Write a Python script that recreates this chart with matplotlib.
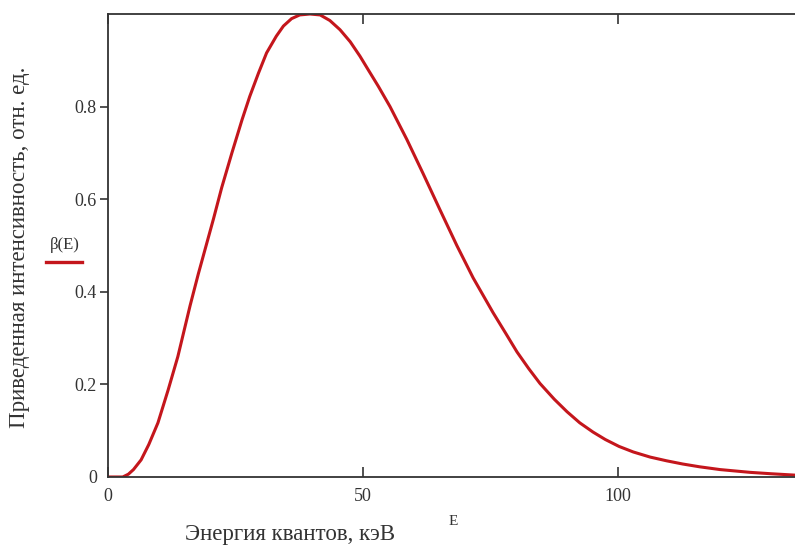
import matplotlib
matplotlib.use("Agg")
import matplotlib.pyplot as plt
from matplotlib.lines import Line2D

# энергия квантов, кэВ
energy = [0, 2.9, 4, 5, 6.5, 8, 9.8, 11.8, 13.7, 16.1, 17.7, 19.4, 20.7, 22.3,
          24.3, 26.3, 27.8, 29.5, 31.1, 33, 34.4, 36, 37.6, 39.6, 41.6, 43.5,
          45.5, 47.5, 49.4, 51, 53, 55.3, 58.6, 61.8, 65.1, 68.4, 71.6, 75.5,
          78, 80.2, 82.5, 84.7, 87.5, 90, 92.5, 95.1, 97.5, 100.2, 103,
          106.3, 109.5, 112.7, 116, 120, 125.9, 130, 134.7]
# приведенная интенсивность beta(E)
beta = [0, 0, 0.006, 0.016, 0.037, 0.07, 0.117, 0.188, 0.26, 0.37, 0.438,
        0.506, 0.558, 0.625, 0.70, 0.772, 0.822, 0.872, 0.916, 0.952, 0.974,
        0.99, 0.998, 1.0, 0.998, 0.986, 0.966, 0.94, 0.909, 0.88, 0.844,
        0.80, 0.729, 0.655, 0.577, 0.50, 0.43, 0.355, 0.31, 0.27, 0.234,
        0.202, 0.168, 0.141, 0.117, 0.097, 0.081, 0.066, 0.054, 0.043, 0.035,
        0.028, 0.022, 0.016, 0.010, 0.007, 0.004]

xticks = [0, 50, 100]
yticks = [0, 0.2, 0.4, 0.6, 0.8]
ytick_labels = ["0", "0.2", "0.4", "0.6", "0.8"]

plt.rcParams['font.family'] = ['Liberation Serif', 'DejaVu Serif']

fig = plt.figure(figsize=(7.95, 5.47), dpi=100)
ax = fig.add_axes([0.1358, 0.128, 0.8642, 0.8464])

red = '#c4161c'
ax.plot(energy, beta, color=red, linewidth=2.2, solid_joinstyle='round')

ax.set_xlim(0, 134.7)
ax.set_ylim(0, 1.0)

for s in ('left', 'bottom', 'top'):
    ax.spines[s].set_color('#333333')
    ax.spines[s].set_linewidth(1.3)
ax.spines['right'].set_visible(False)

ax.set_xticks(xticks)
ax.set_xticklabels([str(t) for t in xticks])
ax.set_yticks(yticks)
ax.set_yticklabels(ytick_labels)
ax.tick_params(axis='x', direction='in', top=True, length=7, width=1.2,
               labelsize=13, pad=8, colors='#333333')
ax.tick_params(axis='y', direction='out', length=6, width=1.2,
               labelsize=13, pad=2, colors='#333333')
# у нуля по оси y нет черточки
ax.yaxis.get_major_ticks()[0].tick1line.set_visible(False)

fig.text(0.024, 0.547, 'Приведенная интенсивность, отн. ед.', rotation=90,
         ha='center', va='center', fontsize=16.5, color='#333333')
fig.text(0.365, 0.022, 'Энергия квантов, кэВ', ha='center', va='center',
         fontsize=16.5, color='#333333')
fig.text(0.570, 0.047, 'E', ha='center', va='center', fontsize=11,
         color='#333333')

# подпись кривой слева от оси
fig.text(0.081, 0.552, 'β(E)', ha='center', va='center', fontsize=12,
         color='#333333')
fig.add_artist(Line2D([0.058, 0.103], [0.521, 0.521], color=red,
                      linewidth=2.4, transform=fig.transFigure))

fig.savefig('out.png', dpi=100)
